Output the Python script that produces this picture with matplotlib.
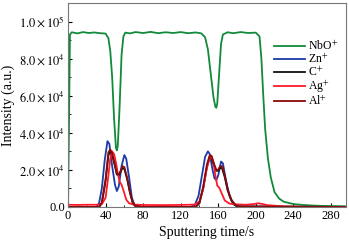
import matplotlib.pyplot as plt
from matplotlib.ticker import FixedLocator, MultipleLocator

plt.rcParams['font.family'] = ['Liberation Serif', 'DejaVu Serif']
plt.rcParams['mathtext.fontset'] = 'stix'

# --- data (time in s, intensity in counts) ---
t_nbo = [0, 1, 2, 4, 10, 16, 22, 28, 34, 40, 43, 45, 47, 49, 51, 52, 53, 55, 57, 59, 61,
         66, 72, 80, 88, 96, 104, 112, 120, 128, 136, 142, 146, 149, 152, 155, 157, 158,
         159, 161, 163, 165, 170, 176, 184, 192, 200, 204, 206, 208, 210, 213, 216, 220,
         225, 230, 240, 250, 260, 270, 280, 295]
nbo = [0, 45000, 93000, 94200, 93600, 94300, 93800, 94100, 93700, 93500, 91000, 84000,
       70000, 48000, 32000, 30500, 33000, 55000, 82000, 92000, 94000,
       93600, 94300, 93800, 94400, 93700, 94200, 93800, 94300, 93700, 94100, 93600, 91500,
       85000, 72000, 59000, 54000, 53500, 56000, 72000, 88000, 93000, 94200, 93700,
       94300, 93800, 94000, 92000, 80000, 60000, 42000, 26000, 16000, 8000,
       4500, 2800, 1600, 1100, 800, 600, 500, 400]

t_zn = [0, 30, 33, 36, 39, 42, 44, 47, 50, 52, 54, 57, 60, 62, 65, 68, 71, 80,
        130, 135, 139, 143, 146, 149, 151, 154, 156, 158, 160, 163, 165, 168, 172, 176,
        180, 295]
zn = [0, 0, 2000, 10000, 25000, 35500, 34000, 22000, 12000, 8600, 11000, 22000, 28000,
      26000, 16000, 5000, 800, 0,
      0, 1000, 6000, 18000, 27000, 30000, 28500, 20000, 15500, 14500, 17000, 24500,
      23500, 15000, 6000, 1500, 300, 0]

t_c = [0, 33, 36, 40, 43, 45, 47, 50, 52, 54, 56, 58, 60, 63, 66, 69, 72, 80,
       136, 140, 144, 148, 151, 153, 155, 158, 160, 162, 164, 167, 170, 174, 178, 182, 295]
c = [0, 0, 2000, 14000, 28000, 30000, 28000, 22000, 17500, 17000, 19000, 21000, 20500,
     15000, 7500, 2000, 400, 0,
     0, 2000, 10000, 22000, 27000, 26000, 23000, 19500, 19500, 21000, 21000, 16000,
     9000, 3500, 1000, 200, 0]

t_ag = [0, 10, 20, 30, 36, 40, 43, 45, 47, 49, 51, 53, 55, 57, 59, 62, 65, 70, 80,
        100, 120, 135, 140, 144, 148, 151, 153, 155, 157, 159, 161, 164, 167, 172, 180,
        190, 198, 203, 207, 212, 220, 230, 250, 295]
ag = [1200, 1100, 1200, 1200, 1500, 5000, 17000, 26000, 30000, 28500, 24000, 18000,
      13500, 12000, 9000, 4000, 2000, 1300, 1100,
      1000, 1100, 1300, 3000, 10000, 21000, 26500, 27000, 24000, 17000, 11500, 10500,
      7000, 3500, 1800, 1400, 1200, 1600, 2000, 1600, 1000, 700, 300, 100, 0]

t_al = [0, 33, 36, 40, 43, 45, 47, 50, 52, 54, 56, 58, 60, 63, 66, 69, 72, 80,
        136, 140, 144, 148, 151, 153, 155, 158, 160, 162, 164, 167, 170, 174, 178, 182, 295]
al = [0, 0, 2500, 15000, 29500, 31000, 29000, 22500, 18000, 17500, 19500, 22000, 21500,
      15500, 8000, 2200, 500, 0,
      0, 2500, 11000, 23000, 28000, 27500, 24000, 20000, 20000, 22000, 22000, 17000,
      9500, 4000, 1200, 300, 0]

series = [
    (t_nbo, nbo, '#118a3a', r'NbO$^{+}$'),
    (t_zn, zn, '#1c3aa8', r'Zn$^{+}$'),
    (t_c, c, '#111111', r'C$^{+}$'),
    (t_ag, ag, '#ff1a2a', r'Ag$^{+}$'),
    (t_al, al, '#8b0a0a', r'Al$^{+}$'),
]

fig = plt.figure(figsize=(3.49, 2.47), dpi=100)
ax = fig.add_axes([0.195, 0.162, 0.796, 0.826])

for t, y, col, lab in series:
    ax.plot(t, y, color=col, lw=1.3, label=lab)

ax.set_xlim(0, 296)
ax.set_ylim(0, 110000)
ax.xaxis.set_major_locator(MultipleLocator(40))
ax.yaxis.set_major_locator(FixedLocator([0, 20000, 40000, 60000, 80000, 100000]))
ax.yaxis.set_minor_locator(MultipleLocator(10000))
ax.xaxis.set_minor_locator(MultipleLocator(20))
ax.set_yticklabels(['0.0', r'$2.0\times10^{4}$', r'$4.0\times10^{4}$',
                    r'$6.0\times10^{4}$', r'$8.0\times10^{4}$', r'$1.0\times10^{5}$'])
ax.tick_params(which='both', direction='in', labelsize=9, pad=2)
ax.tick_params(which='major', length=3)
ax.tick_params(which='minor', length=1.8)
for s in ax.spines.values():
    s.set_color('#777777')

ax.set_xlabel('Sputtering time/s', fontsize=10, labelpad=3)
ax.set_ylabel('Intensity (a.u.)', fontsize=10, labelpad=3)

ax.legend(loc='upper left', bbox_to_anchor=(0.72, 0.85), frameon=False, fontsize=8.5,
          handlelength=2.6, handletextpad=0.3, labelspacing=-0.05, borderpad=0)

fig.savefig('out.png', dpi=100)
